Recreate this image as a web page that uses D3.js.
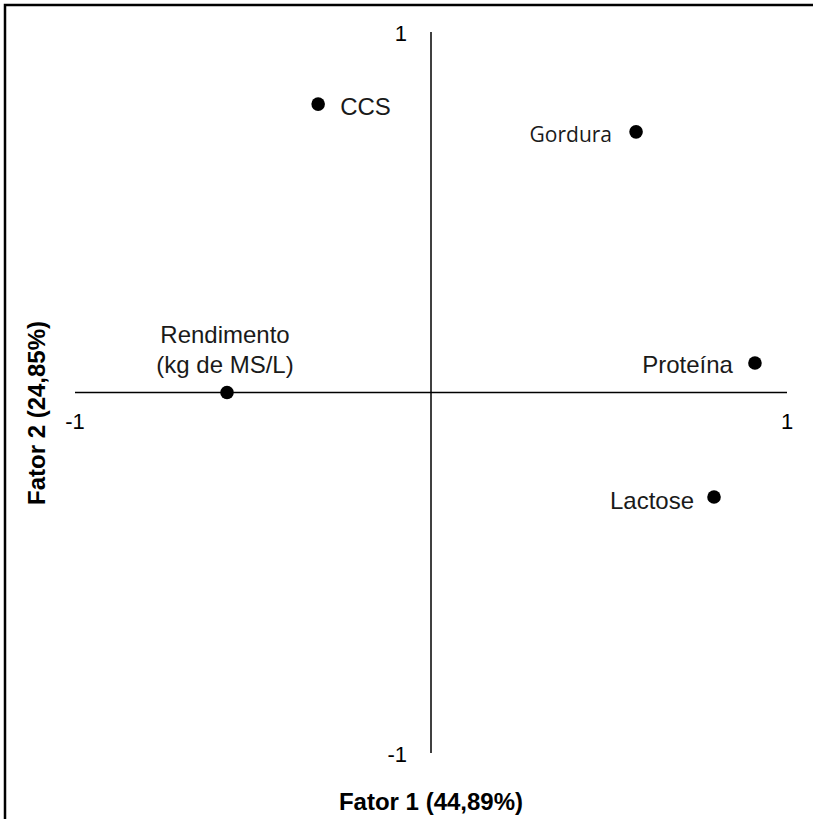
<!DOCTYPE html>
<html>
<head>
<meta charset="utf-8">
<script src="https://cdn.jsdelivr.net/npm/d3@7"></script>
<style>
  html, body { margin: 0; padding: 0; background: #fff; }
  svg { display: block; }
</style>
</head>
<body>
<div id="chart"></div>
<script>
// Factor loadings of the milk variables on the first two factors
const variables = ["CCS", "Gordura", "Rendimento\n(kg de MS/L)", "Proteína", "Lactose"];
const fator1 = [-0.317, 0.576, -0.573, 0.910, 0.795];
const fator2 = [0.800, 0.723, 0.000, 0.082, -0.290];
const tickValues = [-1, 1];
const tickLabels = ["-1", "1"];
const axisTitleX = "Fator 1 (44,89%)";
const axisTitleY = "Fator 2 (24,85%)";

const W = 813, H = 819;
const svg = d3.select("#chart").append("svg")
  .attr("width", W).attr("height", H);

// frame around the figure
svg.append("rect")
  .attr("x", 5).attr("y", 5)
  .attr("width", W + 20).attr("height", H + 20)
  .attr("fill", "none").attr("stroke", "#000").attr("stroke-width", 2.5);

const x = d3.scaleLinear().domain([-1, 1]).range([75, 787]);
const y = d3.scaleLinear().domain([-1, 1]).range([753, 32]);

const font = "'Liberation Sans', Arial, sans-serif";

// axes crossing at the origin
svg.append("line")
  .attr("x1", x(-1)).attr("x2", x(1))
  .attr("y1", y(0)).attr("y2", y(0))
  .attr("stroke", "#000").attr("stroke-width", 1.5);
svg.append("line")
  .attr("x1", x(0)).attr("x2", x(0))
  .attr("y1", y(1)).attr("y2", y(-1))
  .attr("stroke", "#000").attr("stroke-width", 1.5);

// tick labels at the axis ends
svg.selectAll("text.xtick").data(tickValues).join("text")
  .attr("class", "xtick")
  .attr("x", d => x(d))
  .attr("y", y(0) + 36)
  .attr("text-anchor", "middle")
  .attr("font-family", font).attr("font-size", 22)
  .text((d, i) => tickLabels[i]);

svg.selectAll("text.ytick").data(tickValues).join("text")
  .attr("class", "ytick")
  .attr("x", x(0) - 24)
  .attr("y", d => d > 0 ? y(d) + 9 : y(d) + 9)
  .attr("text-anchor", "end")
  .attr("font-family", font).attr("font-size", 22)
  .text((d, i) => tickLabels[i]);

// axis titles
svg.append("text")
  .attr("x", x(0)).attr("y", 810)
  .attr("text-anchor", "middle")
  .attr("font-family", font).attr("font-size", 24).attr("font-weight", "bold")
  .text(axisTitleX);
svg.append("text")
  .attr("transform", `translate(45, ${413}) rotate(-90)`)
  .attr("text-anchor", "middle")
  .attr("font-family", font).attr("font-size", 24).attr("font-weight", "bold")
  .text(axisTitleY);

// points
const pts = variables.map((v, i) => ({ name: v, f1: fator1[i], f2: fator2[i] }));
svg.selectAll("circle.pt").data(pts).join("circle")
  .attr("class", "pt")
  .attr("cx", d => x(d.f1)).attr("cy", d => y(d.f2))
  .attr("r", 6.8).attr("fill", "#000");

// label placement per variable: side, offsets and font
const placement = {
  "CCS": { anchor: "start", dx: 22, dy: 2, family: font, size: 24 },
  "Gordura": { anchor: "end", dx: -24, dy: 2, family: "'Open Sans', sans-serif", size: 21 },
  "Rendimento\n(kg de MS/L)": { anchor: "middle", dx: -2, dy: -58, family: font, size: 24 },
  "Proteína": { anchor: "end", dx: -22, dy: 2, family: font, size: 24 },
  "Lactose": { anchor: "end", dx: -20, dy: 3, family: font, size: 24 }
};

pts.forEach(d => {
  const p = placement[d.name];
  const lines = d.name.split("\n");
  const t = svg.append("text")
    .attr("text-anchor", p.anchor)
    .attr("font-family", p.family).attr("font-size", p.size)
    .attr("fill", "#1a1a1a");
  lines.forEach((ln, k) => {
    t.append("tspan")
      .attr("x", x(d.f1) + p.dx)
      .attr("y", y(d.f2) + p.dy + k * 30)
      .attr("dominant-baseline", "central")
      .text(ln);
  });
});
</script>
</body>
</html>
